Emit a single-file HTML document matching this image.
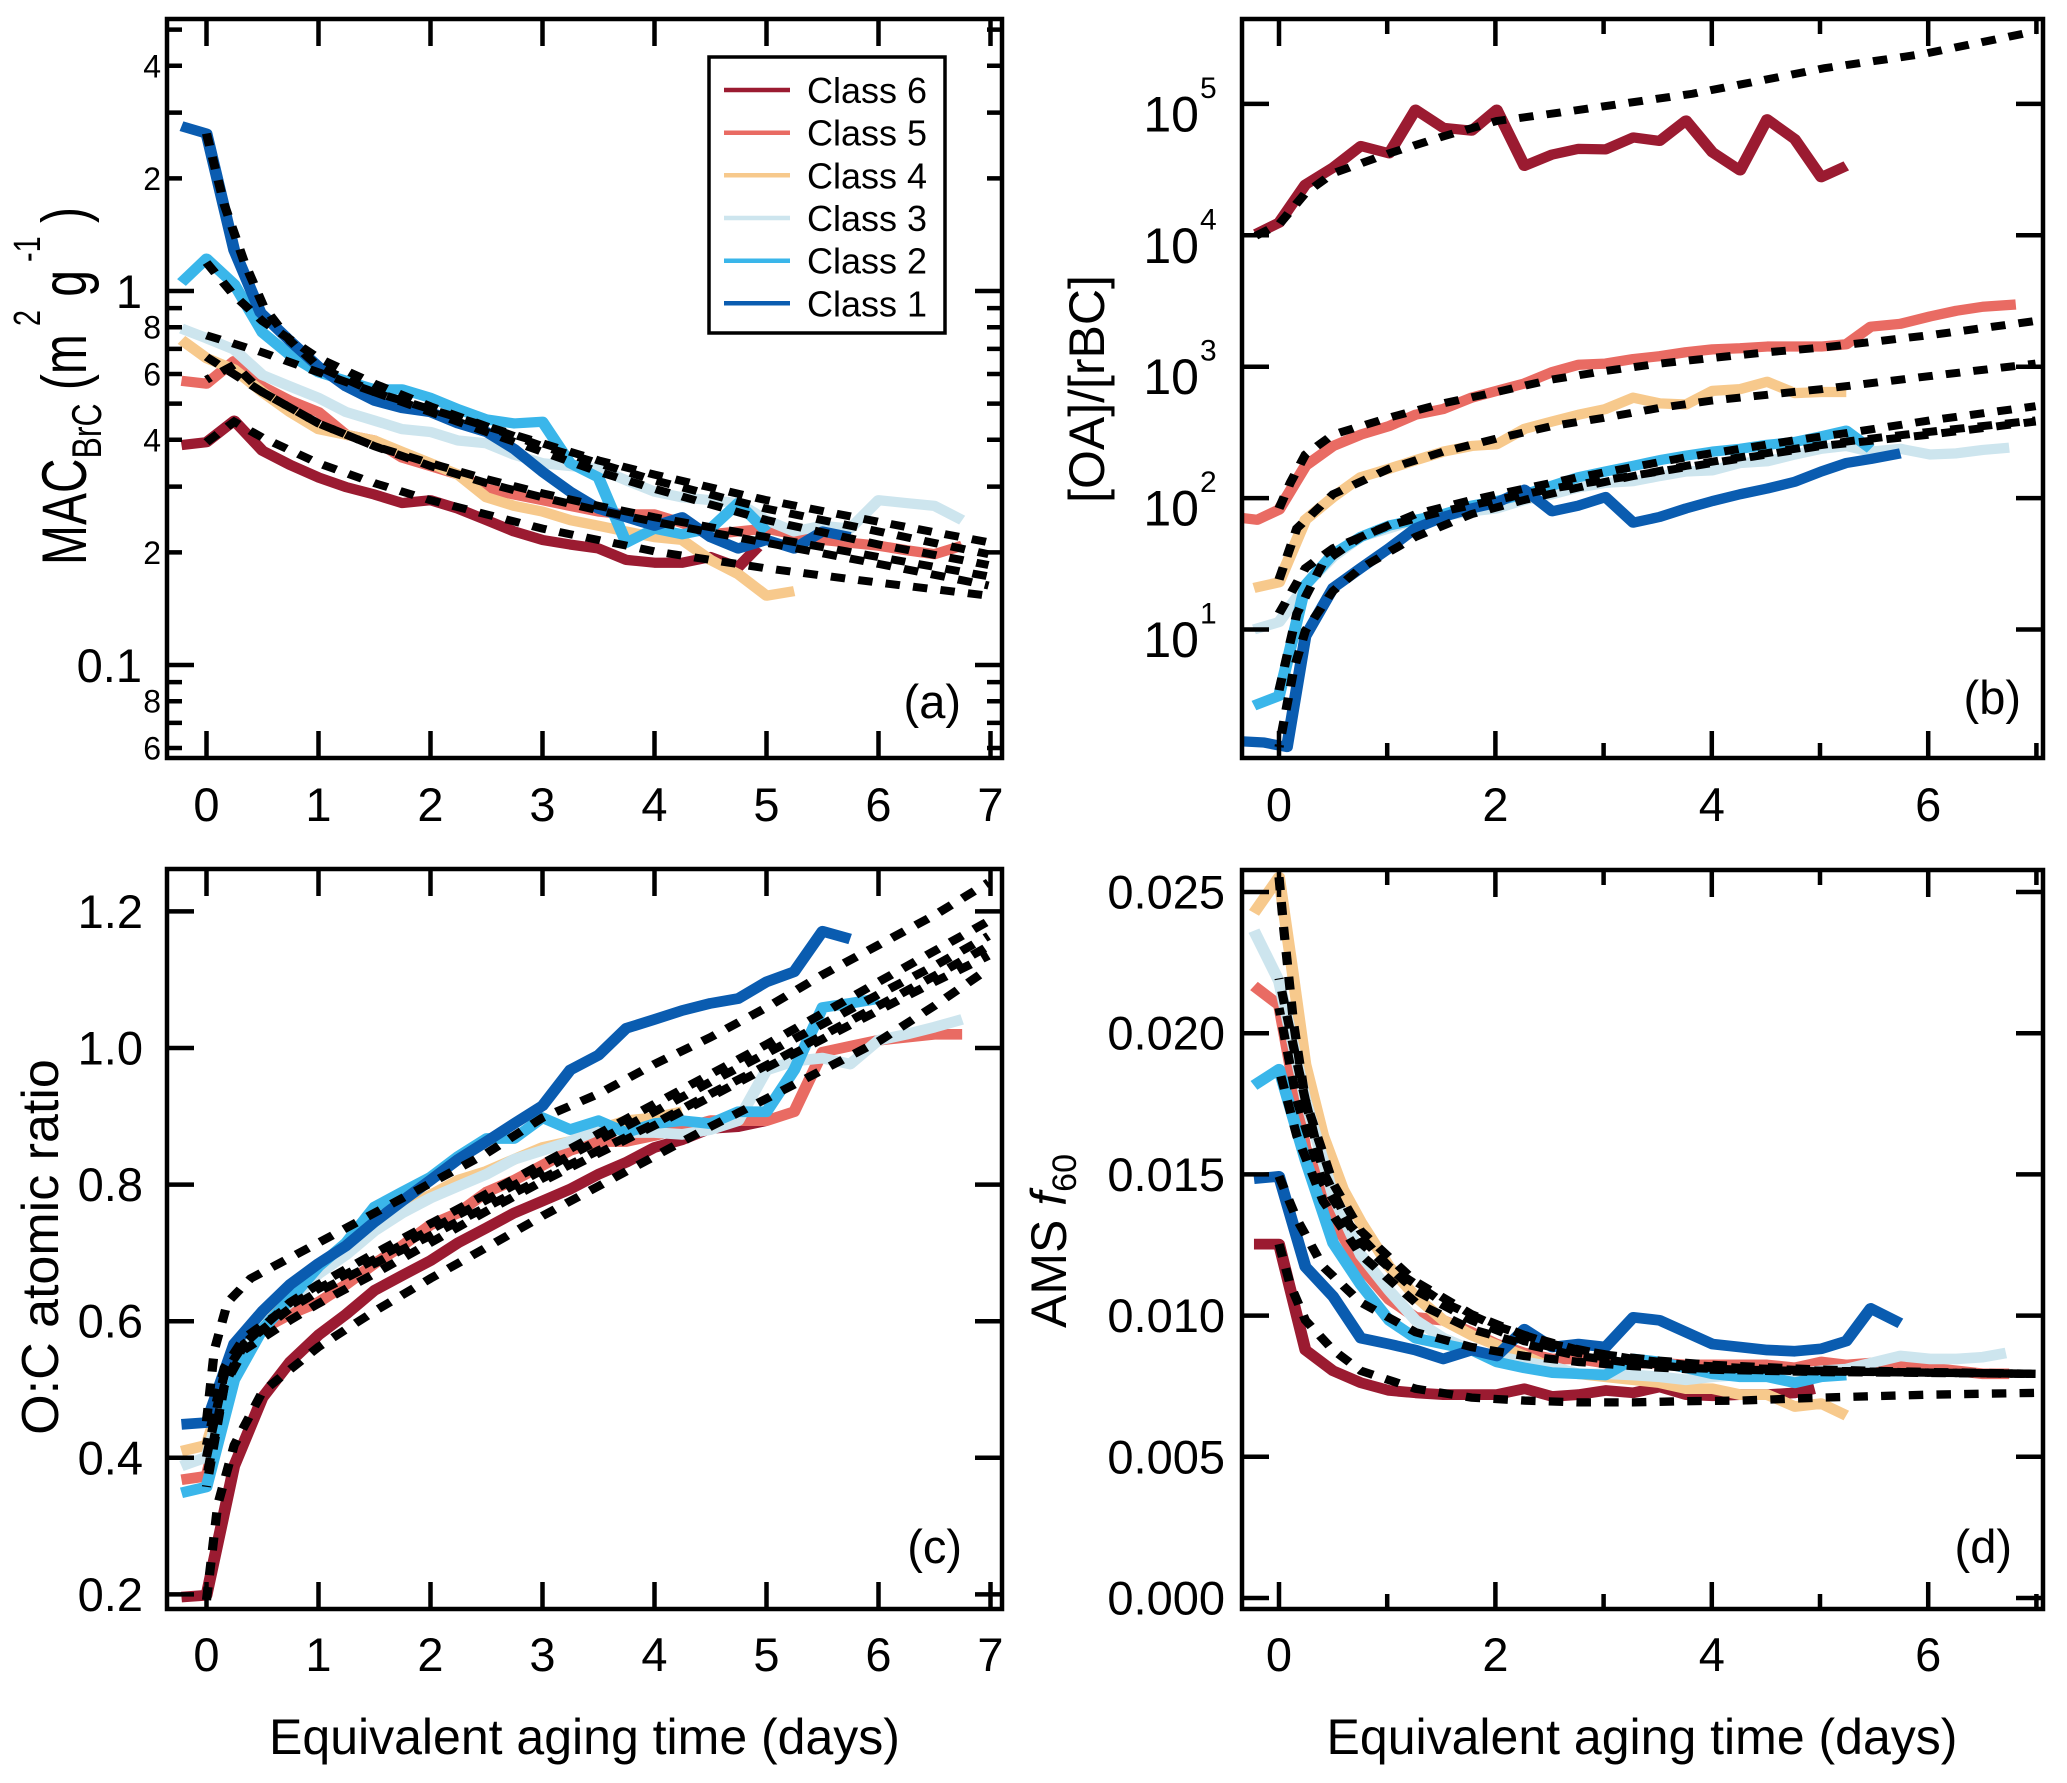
<!DOCTYPE html>
<html>
<head>
<meta charset="utf-8">
<style>
html,body{margin:0;padding:0;background:#fff;}
svg{display:block;}
.s{fill:none;stroke-width:18;stroke-linejoin:round;stroke-linecap:butt;}
.d{fill:none;stroke:#000;stroke-width:14;stroke-dasharray:22 20;stroke-linecap:butt;}
.c6{stroke:#9b1b31}.c5{stroke:#e96b63}.c4{stroke:#f7c98c}.c3{stroke:#cde5ee}.c2{stroke:#3ab6ea}.c1{stroke:#0a5cb0}
.fr{fill:none;stroke:#000;stroke-width:4.5;}
.tk{fill:none;stroke:#000;stroke-width:4.5;}
text{font-family:"Liberation Sans",Arial,sans-serif;fill:#000;}
</style>
</head>
<body>
<svg width="2067" height="1783" viewBox="0 0 2067 1783" xmlns="http://www.w3.org/2000/svg">
<defs>
<clipPath id="ca"><rect x="167" y="19" width="835" height="739"/></clipPath>
<clipPath id="cb"><rect x="1242" y="19" width="801" height="739"/></clipPath>
<clipPath id="cc"><rect x="167" y="869" width="835" height="740"/></clipPath>
<clipPath id="cd"><rect x="1242" y="870" width="801" height="739"/></clipPath>
</defs>
<rect width="2067" height="1783" fill="#fff"/>

<!-- ================= PANEL A ================= -->
<g clip-path="url(#ca)">
<g transform="matrix(0.6588,0,0,0.5684,0.3,0)">
<polyline class="s c6" points="275,783 313,778 355,740 398,793 440,818 483,840 525,857 568,870 610,885 653,880 695,895 738,915 780,935 823,950 865,958 908,965 950,985 993,990 1035,990 1078,980 1120,998 1150,962"/>
<polyline class="s c5" points="275,670 313,675 355,635 398,680 440,705 483,725 525,765 568,775 610,805 653,820 695,835 738,860 780,870 823,880 865,890 908,900 950,905 993,905 1035,920 1078,940 1120,935 1163,930 1205,940 1248,950 1290,955 1333,960 1375,968 1418,975 1460,960"/>
<polyline class="s c4" points="275,598 313,630 355,650 398,690 440,725 483,755 525,765 568,775 610,795 653,815 695,835 738,875 780,890 823,900 865,915 908,925 950,935 993,945 1035,950 1078,985 1120,1010 1163,1048 1205,1040"/>
<polyline class="s c3" points="275,578 313,595 355,615 398,660 440,680 483,700 525,725 568,740 610,755 653,760 695,775 738,780 780,800 823,815 865,820 908,825 950,845 993,865 1035,875 1078,880 1120,885 1163,915 1205,935 1248,925 1290,930 1333,880 1375,885 1418,890 1460,915"/>
<polyline class="s c2" points="275,497 313,455 355,500 398,585 440,625 483,655 525,670 568,685 610,685 653,700 695,720 738,738 780,745 823,742 865,815 908,840 950,955 993,930 1035,940 1078,930 1120,885 1163,935"/>
<polyline class="s c1" points="275,222 313,235 355,440 395,550 440,600 483,645 525,680 568,705 610,718 653,725 695,745 738,760 780,790 823,830 865,865 908,895 950,910 993,925 1035,910 1078,945 1120,965 1163,950 1205,965 1248,935 1290,945"/>
<polyline class="d" points="313,235 340,360 370,460 400,540 440,600 483,645 568,690 653,725 738,760 823,795 908,830 993,860 1163,915 1333,958 1500,994"/>
<polyline class="d" points="313,462 355,520 398,565 483,630 568,675 653,715 738,750 823,785 908,815 993,845 1163,895 1333,935 1500,975"/>
<polyline class="d" points="313,590 398,620 483,655 568,690 653,720 738,750 823,780 908,810 993,835 1163,880 1333,918 1500,954"/>
<polyline class="d" points="313,628 398,690 483,745 568,785 653,820 738,850 823,875 908,898 993,918 1163,955 1333,992 1500,1030"/>
<polyline class="d" points="313,668 355,642 398,690 483,745 568,785 653,815 738,843 823,868 908,890 993,910 1163,945 1333,980 1500,1014" style="stroke-dashoffset:15"/>
<polyline class="d" points="313,778 355,742 398,770 483,815 568,850 653,880 738,905 823,930 908,950 993,970 1163,1000 1333,1025 1500,1048"/>
</g>
</g>
<rect class="fr" x="167" y="19" width="835" height="739"/>
<path class="tk" d="M206.5 758V731M318.5 758V731M430.5 758V731M542.5 758V731M654.5 758V731M766.5 758V731M878.5 758V731M990.5 758V731
M206.5 19V46M318.5 19V46M430.5 19V46M542.5 19V46M654.5 19V46M766.5 19V46M878.5 19V46M990.5 19V46
M167 291H194M1002 291H975M167 665H194M1002 665H975
M167 29.6H182M167 65.8H182M167 112.6H182M167 178.4H182M167 308.1H182M167 327.2H182M167 348.9H182M167 374H182M167 403.6H182M167 439.8H182M167 486.6H182M167 552.4H182M167 682.1H182M167 701.2H182M167 722.9H182M167 748H182
M1002 29.6H987M1002 65.8H987M1002 112.6H987M1002 178.4H987M1002 308.1H987M1002 327.2H987M1002 348.9H987M1002 374H987M1002 403.6H987M1002 439.8H987M1002 486.6H987M1002 552.4H987M1002 682.1H987M1002 701.2H987M1002 722.9H987M1002 748H987"/>
<g font-size="32" text-anchor="end">
<text x="161" y="77.5">4</text>
<text x="161" y="189.9">2</text>
<text x="161" y="338.7">8</text>
<text x="161" y="385.5">6</text>
<text x="161" y="451.3">4</text>
<text x="161" y="563.9">2</text>
<text x="161" y="712.7">8</text>
<text x="161" y="759.5">6</text>
</g>
<g font-size="47" text-anchor="end">
<text x="142" y="308">1</text>
<text x="142" y="682">0.1</text>
</g>
<g font-size="47" text-anchor="middle">
<text x="206.5" y="821">0</text><text x="318.5" y="821">1</text><text x="430.5" y="821">2</text><text x="542.5" y="821">3</text><text x="654.5" y="821">4</text><text x="766.5" y="821">5</text><text x="878.5" y="821">6</text><text x="990.5" y="821">7</text>
</g>
<text x="961" y="718" font-size="47" text-anchor="end">(a)</text>
<text transform="translate(86,565) rotate(-90)" x="0" y="0" font-size="63" textLength="358" lengthAdjust="spacingAndGlyphs">MAC<tspan font-size="42" dy="15">BrC</tspan><tspan dy="-15"> (m</tspan><tspan font-size="38" dy="-46"> 2</tspan><tspan dy="46"> g</tspan><tspan font-size="38" dy="-46"> -1</tspan><tspan dy="46"> )</tspan></text>

<!-- legend -->
<rect x="709" y="57" width="236" height="276" fill="#fff" stroke="#000" stroke-width="3.5"/>
<g stroke-width="4.5">
<line x1="724" x2="790" y1="90" y2="90" class="c6"/>
<line x1="724" x2="790" y1="132.7" y2="132.7" class="c5"/>
<line x1="724" x2="790" y1="175.3" y2="175.3" class="c4"/>
<line x1="724" x2="790" y1="218" y2="218" class="c3"/>
<line x1="724" x2="790" y1="260.7" y2="260.7" class="c2"/>
<line x1="724" x2="790" y1="303.3" y2="303.3" class="c1"/>
</g>
<g font-size="36">
<text x="807" y="103">Class 6</text>
<text x="807" y="145.7">Class 5</text>
<text x="807" y="188.3">Class 4</text>
<text x="807" y="231">Class 3</text>
<text x="807" y="273.7">Class 2</text>
<text x="807" y="316.3">Class 1</text>
</g>

<!-- ================= PANEL B ================= -->
<g clip-path="url(#cb)">
<g transform="matrix(0.6596,0,0,0.5681,1033,0)">
<polyline class="s c6" points="338,412 373,392 413,325 455,295 497,257 540,270 580,193 622,225 665,230 703,193 745,292 787,272 827,262 868,263 910,242 950,248 990,212 1030,268 1072,300 1113,210 1155,245 1195,312 1233,292"/>
<polyline class="s c5" points="318,912 340,915 373,897 413,820 455,785 497,765 540,750 580,730 622,720 665,700 703,688 745,675 787,655 827,642 868,640 910,632 950,627 990,620 1030,615 1072,613 1113,610 1155,610 1195,610 1233,606 1270,575 1315,570 1360,557 1400,547 1440,540 1490,536"/>
<polyline class="s c4" points="335,1035 373,1025 413,915 455,875 497,840 540,825 580,810 622,795 665,785 703,782 745,755 787,742 827,730 868,720 910,700 950,710 990,712 1030,688 1072,685 1113,672 1155,692 1195,690 1233,690"/>
<polyline class="s c3" points="335,1108 373,1095 413,1030 455,980 497,945 540,930 580,915 622,908 665,900 703,895 745,880 787,870 827,858 868,850 910,847 950,838 990,830 1030,828 1072,815 1113,812 1155,800 1195,790 1233,785 1270,795 1315,790 1360,800 1400,798 1440,792 1480,788"/>
<polyline class="s c2" points="335,1242 373,1225 413,1030 455,975 497,945 540,925 580,915 622,905 665,890 703,882 745,870 787,855 827,840 868,830 910,820 950,810 990,802 1030,795 1072,790 1113,783 1155,778 1195,768 1233,758 1270,790"/>
<polyline class="s c1" points="318,1305 350,1307 385,1315 413,1120 455,1035 497,1000 540,965 580,930 622,910 665,895 703,885 745,862 787,900 827,890 868,875 910,920 950,910 990,895 1030,882 1072,870 1113,860 1155,848 1195,830 1233,815 1270,808 1315,798"/>
<polyline class="d" points="338,415 373,395 413,340 455,305 540,270 622,240 703,213 800,198 1000,165 1200,120 1350,95 1520,55"/>
<polyline class="d" points="373,895 390,850 413,800 455,765 540,735 622,710 703,690 787,668 868,653 950,640 1030,630 1113,620 1195,612 1360,590 1520,565"/>
<polyline class="d" points="373,1020 400,930 455,870 540,825 622,795 703,772 787,750 868,735 950,718 1030,705 1113,695 1195,685 1360,662 1520,640"/>
<polyline class="d" points="373,1080 413,1000 455,965 540,925 622,900 703,880 787,860 868,845 950,830 1030,815 1113,800 1195,785 1360,765 1520,742"/>
<polyline class="d" points="373,1215 400,1080 440,990 497,945 580,905 665,880 745,860 827,840 910,822 990,805 1072,790 1155,775 1235,762 1360,740 1520,715"/>
<polyline class="d" points="373,1315 395,1180 413,1110 455,1040 497,1000 580,945 665,905 745,880 827,858 910,838 990,820 1072,805 1155,790 1235,777 1360,760 1520,740" style="stroke-dashoffset:18"/>
</g>
</g>
<rect class="fr" x="1242" y="19" width="801" height="739"/>
<path class="tk" d="M1279 758V731M1387.2 758V743M1495.4 758V731M1603.6 758V743M1711.8 758V731M1820 758V743M1928.2 758V731M2036.4 758V743
M1279 19V46M1387.2 19V34M1495.4 19V46M1603.6 19V34M1711.8 19V46M1820 19V34M1928.2 19V46M2036.4 19V34
M1242 629.5H1269M1242 498.1H1269M1242 366.7H1269M1242 235.3H1269M1242 103.9H1269
M2043 629.5H2016M2043 498.1H2016M2043 366.7H2016M2043 235.3H2016M2043 103.9H2016"/>
<g font-size="50" text-anchor="end">
<text x="1199" y="131.5">10</text>
<text x="1199" y="263">10</text>
<text x="1199" y="394.2">10</text>
<text x="1199" y="525.6">10</text>
<text x="1199" y="657">10</text>
</g>
<g font-size="30">
<text x="1200" y="98">5</text>
<text x="1200" y="229.3">4</text>
<text x="1200" y="360.7">3</text>
<text x="1200" y="492.1">2</text>
<text x="1200" y="623.5">1</text>
</g>
<g font-size="47" text-anchor="middle">
<text x="1279" y="821">0</text><text x="1495.4" y="821">2</text><text x="1711.8" y="821">4</text><text x="1928.2" y="821">6</text>
</g>
<text x="2021" y="714" font-size="47" text-anchor="end">(b)</text>
<text transform="translate(1104,389) rotate(-90)" x="0" y="0" font-size="50" text-anchor="middle">[OA]/[rBC]</text>

<!-- ================= PANEL C ================= -->
<g clip-path="url(#cc)">
<g transform="matrix(0.6588,0,0,0.5955,0.3,849.7)">
<polyline class="s c6" points="275,1255 313,1252 355,1035 398,920 440,860 483,815 525,780 568,740 610,715 653,690 695,660 738,635 780,610 823,590 865,570 908,545 950,525 993,500 1035,487 1078,468 1120,465 1163,455"/>
<polyline class="s c5" points="275,1058 313,1052 355,870 398,805 440,780 483,760 525,730 568,695 610,665 653,630 695,610 738,575 780,555 823,530 865,505 908,490 950,490 993,480 1035,468 1078,455 1120,455 1163,455 1205,440 1248,340 1290,330 1333,320 1375,315 1418,310 1460,310"/>
<polyline class="s c4" points="275,1010 313,1000 355,850 398,795 440,760 483,710 525,665 568,620 610,600 653,580 695,555 738,540 780,520 823,500 865,490 908,470 950,455 993,450 1035,440"/>
<polyline class="s c3" points="275,1035 313,1020 355,860 398,800 440,760 483,712 525,680 568,640 610,610 653,585 695,565 738,545 780,520 823,505 865,490 908,470 950,475 993,475 1035,478 1078,470 1120,455 1163,370 1205,355 1248,350 1290,360 1333,320 1375,310 1418,298 1460,285"/>
<polyline class="s c2" points="275,1080 313,1070 355,890 398,805 440,755 483,700 525,660 568,600 610,575 653,550 695,515 738,485 780,485 823,450 865,470 908,455 950,475 993,460 1035,455 1078,460 1120,440 1163,440 1205,370 1248,265 1290,258 1333,250"/>
<polyline class="s c1" points="275,965 313,962 355,830 398,775 440,730 483,695 525,665 568,625 610,590 653,555 695,520 738,490 780,460 823,430 865,370 908,345 950,300 993,285 1035,270 1078,258 1120,250 1163,222 1205,205 1248,137 1290,150"/>
<polyline class="d" points="313,960 325,840 345,760 380,720 483,660 568,610 653,560 738,510 823,450 908,410 993,360 1078,315 1163,265 1248,210 1333,160 1418,110 1500,55"/>
<polyline class="d" points="313,1070 340,900 370,830 440,770 483,742 568,695 653,648 738,600 823,552 908,505 993,460 1078,410 1163,362 1248,312 1333,262 1418,212 1500,162" style="stroke-dashoffset:20"/>
<polyline class="d" points="313,1020 340,880 370,830 440,760 483,730 568,678 653,628 738,578 823,527 908,477 993,427 1078,377 1163,327 1248,275 1333,222 1418,170 1500,120"/>
<polyline class="d" points="313,1000 340,870 370,820 440,765 483,737 568,688 653,638 738,588 823,538 908,488 993,440 1078,390 1163,342 1248,293 1333,243 1418,195 1500,145" style="stroke-dashoffset:10"/>
<polyline class="d" points="313,1055 340,900 370,840 440,790 483,762 568,712 653,660 738,607 823,557 908,510 993,463 1078,415 1163,366 1248,318 1333,270 1418,222 1500,178" style="stroke-dashoffset:30"/>
<polyline class="d" points="313,1260 330,1100 355,1000 398,910 483,835 568,775 653,720 738,668 823,615 908,565 993,515 1078,465 1163,418 1248,370 1333,322 1418,262 1500,200"/>
</g>
</g>
<rect class="fr" x="167" y="869" width="835" height="740"/>
<path class="tk" d="M206.5 1609V1582M318.5 1609V1582M430.5 1609V1582M542.5 1609V1582M654.5 1609V1582M766.5 1609V1582M878.5 1609V1582M990.5 1609V1582
M206.5 869V896M318.5 869V896M430.5 869V896M542.5 869V896M654.5 869V896M766.5 869V896M878.5 869V896M990.5 869V896
M167 911.4H194M167 1048H194M167 1184.6H194M167 1321.2H194M167 1457.8H194M167 1594.4H194
M1002 911.4H975M1002 1048H975M1002 1184.6H975M1002 1321.2H975M1002 1457.8H975M1002 1594.4H975"/>
<g font-size="47" text-anchor="end">
<text x="143" y="928">1.2</text>
<text x="143" y="1064.5">1.0</text>
<text x="143" y="1201">0.8</text>
<text x="143" y="1337.7">0.6</text>
<text x="143" y="1474.3">0.4</text>
<text x="143" y="1611">0.2</text>
</g>
<g font-size="47" text-anchor="middle">
<text x="206.5" y="1671">0</text><text x="318.5" y="1671">1</text><text x="430.5" y="1671">2</text><text x="542.5" y="1671">3</text><text x="654.5" y="1671">4</text><text x="766.5" y="1671">5</text><text x="878.5" y="1671">6</text><text x="990.5" y="1671">7</text>
</g>
<text x="962" y="1563" font-size="47" text-anchor="end">(c)</text>
<text transform="translate(58,1247) rotate(-90)" x="0" y="0" font-size="52" text-anchor="middle">O:C atomic ratio</text>
<text x="584.5" y="1754" font-size="50" text-anchor="middle">Equivalent aging time (days)</text>

<!-- ================= PANEL D ================= -->
<g clip-path="url(#cd)">
<g transform="matrix(0.6596,0,0,0.5948,1033,850.4)">
<polyline class="s c6" points="335,662 373,662 413,840 455,875 497,895 540,908 580,912 622,915 665,915 703,915 745,905 787,918 827,915 868,908 910,912 950,902 990,915 1030,917 1072,915 1113,915 1155,912 1185,905"/>
<polyline class="s c5" points="335,228 373,260 413,500 455,620 497,700 540,755 580,785 622,790 665,810 703,830 745,845 787,855 827,855 868,862 910,862 950,862 990,865 1030,865 1072,865 1113,865 1155,870 1195,860 1233,865 1270,862 1315,865 1360,870 1400,875 1440,880 1480,880"/>
<polyline class="s c4" points="335,105 373,45 393,200 413,360 440,480 470,570 497,625 540,700 580,750 622,790 665,815 703,832 745,850 787,870 827,880 868,885 910,890 950,895 990,905 1030,905 1072,915 1113,915 1155,935 1195,930 1233,950"/>
<polyline class="s c3" points="335,135 373,220 413,420 455,580 497,680 540,740 580,790 622,820 665,840 703,850 745,860 787,868 827,880 868,880 910,882 950,885 990,890 1030,885 1072,882 1113,880 1155,880 1195,875 1233,872 1270,862 1315,850 1360,855 1400,855 1440,852 1475,845"/>
<polyline class="s c2" points="335,395 373,368 413,520 455,660 497,730 540,790 580,820 622,830 665,840 703,860 745,870 787,878 827,880 868,882 910,855 950,860 990,870 1030,880 1072,885 1113,885 1155,895 1195,885 1233,882"/>
<polyline class="s c1" points="335,552 373,548 413,700 455,750 497,820 540,830 580,840 622,855 665,840 703,850 745,805 787,835 827,830 868,835 910,785 950,790 990,810 1030,830 1072,835 1113,840 1155,842 1195,838 1233,825 1270,770 1315,795"/>
<polyline class="d" points="373,45 380,130 395,290 413,420 440,540 480,630 540,700 622,760 703,800 787,830 868,848 950,858 1030,865 1195,873 1360,877 1520,880"/>
<polyline class="d" points="373,215 395,330 413,420 455,560 497,640 580,725 665,780 745,815 827,840 910,855 990,865 1072,870 1195,875 1360,878 1520,880" style="stroke-dashoffset:20"/>
<polyline class="d" points="373,265 400,420 440,560 497,660 580,740 665,790 745,825 827,845 910,860 990,868 1072,872 1195,875 1360,878 1520,880" style="stroke-dashoffset:10"/>
<polyline class="d" points="373,368 400,480 440,590 497,680 580,760 665,805 745,830 827,850 910,862 990,870 1072,873 1195,876 1360,878 1520,880" style="stroke-dashoffset:30"/>
<polyline class="d" points="373,548 400,620 440,700 497,760 580,810 665,835 745,850 827,860 910,867 990,872 1195,877 1520,880"/>
<polyline class="d" points="373,662 390,730 413,790 455,840 497,875 580,905 665,920 745,925 827,928 910,928 990,926 1072,925 1195,920 1360,915 1520,912"/>
</g>
</g>
<rect class="fr" x="1242" y="870" width="801" height="739"/>
<path class="tk" d="M1279 1609V1582M1387.2 1609V1594M1495.4 1609V1582M1603.6 1609V1594M1711.8 1609V1582M1820 1609V1594M1928.2 1609V1582M2036.4 1609V1594
M1279 870V897M1387.2 870V885M1495.4 870V897M1603.6 870V885M1711.8 870V897M1820 870V885M1928.2 870V897M2036.4 870V885
M1242 1598H1269M1242 1456.8H1269M1242 1315.6H1269M1242 1174.4H1269M1242 1033.2H1269M1242 892H1269
M2043 1598H2016M2043 1456.8H2016M2043 1315.6H2016M2043 1174.4H2016M2043 1033.2H2016M2043 892H2016"/>
<g font-size="47" text-anchor="end">
<text x="1225" y="908.5">0.025</text>
<text x="1225" y="1049.7">0.020</text>
<text x="1225" y="1190.9">0.015</text>
<text x="1225" y="1332.1">0.010</text>
<text x="1225" y="1473.3">0.005</text>
<text x="1225" y="1614.5">0.000</text>
</g>
<g font-size="47" text-anchor="middle">
<text x="1279" y="1671">0</text><text x="1495.4" y="1671">2</text><text x="1711.8" y="1671">4</text><text x="1928.2" y="1671">6</text>
</g>
<text x="2012" y="1563" font-size="47" text-anchor="end">(d)</text>
<text transform="translate(1066,1241) rotate(-90)" x="0" y="0" font-size="50" text-anchor="middle">AMS <tspan font-style="italic">f</tspan><tspan font-size="34" dy="10">60</tspan></text>
<text x="1642" y="1754" font-size="50" text-anchor="middle">Equivalent aging time (days)</text>
</svg>
</body>
</html>
